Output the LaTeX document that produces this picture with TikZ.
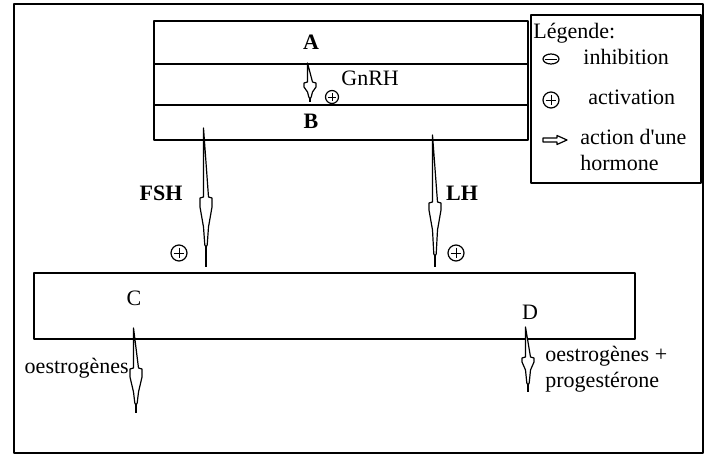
\documentclass[tikz,border=0pt]{standalone}
\usepackage{fontspec}
\setmainfont{Liberation Serif}
\usetikzlibrary{calc,shapes.geometric}
\newcommand{\harrow}[6]{%
  \draw[harr] ($(#1)+(-2.5,0)$) -- ($(#1)+(-2.5,#3)$) -- ($(#1)+(-6,#3+1)$) -- ($(#1)+(-6,#4)$)
    -- ($(#1)+(-2.5,#5)$) -- ($(#1)+(-1.2,#6)$) -- ($(#1)+(0,#6+2)$) -- ($(#1)+(1.2,#6)$)
    -- ($(#1)+(2.5,#5)$) -- ($(#1)+(6,#4)$) -- ($(#1)+(6,#3+1)$) -- ($(#1)+(2.5,#3)$) -- cycle;
  \draw[harr] ($(#1)+(0,#6+2)$) -- (#2);}
\begin{document}
\begin{tikzpicture}[x=0.5pt,y=-0.5pt,line join=round,
  box/.style={draw,line width=1pt,inner sep=0pt},
  lbl/.style={font=\fontsize{11}{13}\selectfont,inner sep=0pt},
  blbl/.style={font=\fontsize{11}{13}\selectfont\bfseries,inner sep=0pt},
  harr/.style={draw,line width=0.6pt,fill=white},
  plus/.style={circle,draw,line width=0.6pt,fill=white,minimum size=8pt,inner sep=0pt,
    path picture={\draw[line width=0.5pt]
      ([xshift=1.3pt]path picture bounding box.west) -- ([xshift=-1.3pt]path picture bounding box.east)
      ([yshift=-1.3pt]path picture bounding box.north) -- ([yshift=1.3pt]path picture bounding box.south);}},
  minus/.style={ellipse,draw,line width=0.6pt,minimum width=8pt,minimum height=5pt,inner sep=0pt,
    path picture={\draw[line width=0.5pt]
      ([xshift=0.8pt]path picture bounding box.west) -- ([xshift=-0.8pt]path picture bounding box.east);}}]
\useasboundingbox (0,0) rectangle (707,455);
\draw[line width=1pt] (14,4) rectangle (703,453);
% top block
\node[box,anchor=north west,minimum width=187pt,minimum height=21.5pt] (A) at (153,20) {};
\node[box,anchor=north west,minimum width=187pt,minimum height=20.5pt] (G) at (153,63) {};
\node[box,anchor=north west,minimum width=187pt,minimum height=17.5pt] (B) at (153,104) {};
\node[blbl] (Alab) at (311,42) {A};
\node[blbl] (Blab) at (311,121) {B};
% bottom block
\node[box,anchor=north west,minimum width=300.5pt,minimum height=33pt] (CD) at (33,272) {};
\node[lbl] (Clab) at (134,298) {C};
\node[lbl] (Dlab) at (530,312) {D};
% legend
\node[box,anchor=north west,minimum width=85pt,minimum height=84pt] (leg) at (530,14) {};
\node[lbl,anchor=west] (legt) at (533,33) {Légende:};
\node[minus] (lm) at (551,59) {};
\node[lbl,anchor=west] (lmt) at (583,57) {inhibition};
\node[plus] (lp) at (551,100) {};
\node[lbl,anchor=west] (lpt) at (588,97) {activation};
\draw[line width=0.6pt] (543,138) -- (557,138) -- (557,135.5) -- (567,140) -- (557,144.5) -- (557,142) -- (543,142) -- cycle;
\node[lbl,anchor=west,align=left] (lat) at (580,150) {action d\textquotesingle une\\hormone};
% coordinates
\coordinate (gT) at (310,63);  \coordinate (gE) at (310,102);
\coordinate (fT) at (206,128); \coordinate (fE) at (206,267);
\coordinate (lT) at (435,135); \coordinate (lE) at (435,267);
\coordinate (cT) at (136,328); \coordinate (cE) at (136,413);
\coordinate (dT) at (528,327); \coordinate (dE) at (528,392);
% arrows
\harrow{gT}{gE}{19}{24}{29}{34}
\harrow{fT}{fE}{69}{79}{99}{117}
\harrow{lT}{lE}{67}{75}{95}{119}
\harrow{cT}{cE}{40}{49}{64}{75}
\harrow{dT}{dE}{30}{35}{43}{56}
% labels
\node[plus,minimum size=6.5pt] (gp) at (332,97) {};
\node[lbl,anchor=west] (gl) at (341,78) {GnRH};
\node[blbl] (fsh) at (161,193) {FSH};
\node[plus] (fp) at (179,253) {};
\node[blbl] (lh) at (462,193) {LH};
\node[plus] (lhp) at (456,253) {};
\node[lbl,anchor=east] (oe) at (129,368) {oestrogènes};
\node[lbl,anchor=west,align=left] (op) at (545,369) {oestrogènes +\\progestérone};
\end{tikzpicture}
\end{document}
